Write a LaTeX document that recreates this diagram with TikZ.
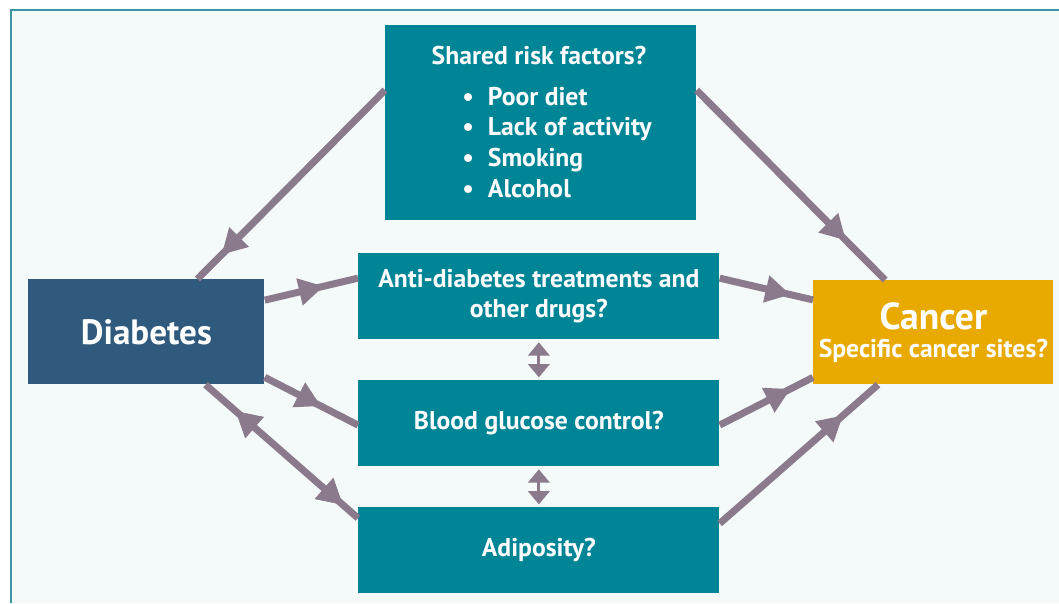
\documentclass[tikz,border=0pt]{standalone}
\usepackage{fontspec}
\setmainfont{PT Sans}
\usepackage{tikz}
\usetikzlibrary{calc}
\usetikzlibrary{arrows.meta, positioning}
\usetikzlibrary{decorations.markings}
\definecolor{tealbox}{RGB}{0,133,150}
\definecolor{bluebox}{RGB}{47,90,125}
\definecolor{goldbox}{RGB}{232,170,0}
\definecolor{linkcol}{RGB}{139,122,140}
\definecolor{paper}{RGB}{244,250,250}
\definecolor{rim}{RGB}{58,150,165}
\tikzset{>=Stealth}
\tikzset{
  box/.style={fill=tealbox, text=white, anchor=north west, inner sep=0pt, align=center,
    font=\bfseries\fontsize{14.6}{16}\selectfont},
  boxtext/.style={text=white, inner sep=0pt, align=center,
    font=\bfseries\fontsize{14.6}{16}\selectfont},
  link/.style={draw=linkcol, line width=4pt},
  tipat/.style={postaction={decorate}, decoration={markings,
    mark=at position #1 with {\arrow[linkcol]{Triangle[length=14pt,width=16pt,line width=0pt]}}}},
  tipback/.style={postaction={decorate}, decoration={markings,
    mark=at position #1 with {\arrowreversed[linkcol]{Triangle[length=14pt,width=16pt,line width=0pt]}}}},
  twoway/.style={draw=linkcol, line width=1.8pt, shorten <=1.5pt, shorten >=1.5pt,
    {Triangle[length=7.5pt,width=12pt]}-{Triangle[length=7.5pt,width=12pt]}}
}

\begin{document}
\begin{tikzpicture}[x=0.02cm, y=-0.02cm]
    \useasboundingbox (0,0) rectangle (1059,603);
    \fill[white] (0,0) rectangle (1059,603);
    \fill[paper] (11,10) rectangle (1059,603);
    \draw[rim, line width=1.1pt] (11,603) -- (11,10) -- (1059,10);

    % boxes
    \node[box, minimum width=311*0.02cm, minimum height=195*0.02cm] (risk) at (385,25) {};
    \node[boxtext] (risktitle) at (539,56) {Shared risk factors?};
    \node[boxtext, anchor=north west] (risklist) at (462,83)
      {\renewcommand{\arraystretch}{1.1}\begin{tabular}{@{}l@{\hspace{8pt}}l@{}}
       \textbullet & Poor diet\\
       \textbullet & Lack of activity\\
       \textbullet & Smoking\\
       \textbullet & Alcohol
       \end{tabular}};
    \node[box, fill=bluebox, minimum width=236*0.02cm, minimum height=105*0.02cm,
      font=\bfseries\fontsize{20}{22}\selectfont] (dia) at (28,279) {Diabetes};
    \node[box, minimum width=361*0.02cm, minimum height=86*0.02cm] (drug) at (358,253)
      {Anti-diabetes treatments and\\[1pt] other drugs?};
    \node[box, minimum width=361*0.02cm, minimum height=86*0.02cm] (gluc) at (358,380)
      {Blood glucose control?};
    \node[box, minimum width=361*0.02cm, minimum height=86*0.02cm] (adip) at (358,507)
      {Adiposity?};
    \node[box, fill=goldbox, minimum width=240*0.02cm, minimum height=104*0.02cm] (canc) at (813,280)
      {{\fontsize{21.4}{22}\selectfont Cancer}\\[0pt] Specific cancer sites?};

    % links into diabetes
    \draw[link, tipat=0.87] ($(risk.north west)!0.333!(risk.south west)$) -- ($(dia.north west)!0.716!(dia.north east)$);
    \draw[link, tipat=0.63] ($(dia.north east)!0.2!(dia.south east)$) -- ($(drug.north west)!0.29!(drug.south west)$);
    \draw[link, tipat=0.6] ($(dia.north east)!0.93!(dia.south east)$) -- ($(gluc.north west)!0.52!(gluc.south west)$);
    \draw[link, tipback=0.2, tipat=0.9] ($(dia.south west)!0.75!(dia.south east)$) -- ($(adip.north west)!0.128!(adip.south west)$);

    % links into cancer
    \draw[link, tipat=0.79] ($(risk.north east)!0.333!(risk.south east)$) -- ($(canc.north west)!0.3!(canc.north east)$);
    \draw[link, tipat=0.755] ($(drug.north east)!0.29!(drug.south east)$) -- ($(canc.north west)!0.19!(canc.south west)$);
    \draw[link, tipat=0.755] ($(gluc.north east)!0.52!(gluc.south east)$) -- ($(canc.north west)!0.93!(canc.south west)$);
    \draw[link, tipat=0.78] ($(adip.north east)!0.19!(adip.south east)$) -- ($(canc.south west)!0.27!(canc.south east)$);

    % between the middle boxes
    \draw[twoway] (drug.south) -- (gluc.north);
    \draw[twoway] (gluc.south) -- (adip.north);
\end{tikzpicture}
\end{document}
